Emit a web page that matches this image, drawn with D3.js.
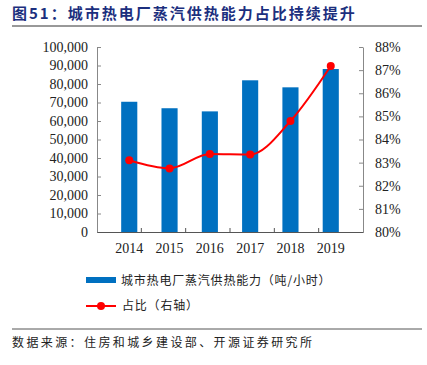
<!DOCTYPE html>
<html>
<head>
<meta charset="utf-8">
<script src="https://cdn.jsdelivr.net/npm/d3@7"></script>
<style>
  body { margin: 0; background: #fff; }
  svg { display: block; }
  .tick text { font-family: "Liberation Serif", "Times New Roman", serif; font-size: 14px; fill: #222; }
  .cjk { font-family: "Noto Sans CJK SC", sans-serif; }
</style>
</head>
<body>
<svg id="chart"></svg>
<script>
const years = ["2014", "2015", "2016", "2017", "2018", "2019"];
const capacity = [70400, 66900, 65200, 82000, 78200, 88100];
const share = [83.1, 82.75, 83.37, 83.35, 84.8, 87.18];

const width = 427;
const height = 365;
const plotLeft = 97, plotRight = 363, plotTop = 47, plotBottom = 232;

const svg = d3.select("#chart").attr("width", width).attr("height", height);

// title
svg.append("text")
  .attr("x", 12).attr("y", 19)
  .attr("class", "cjk")
  .attr("font-size", 15).attr("font-weight", "bold")
  .attr("letter-spacing", 2)
  .attr("fill", "#1c2f7e")
  .text("图51：城市热电厂蒸汽供热能力占比持续提升");
svg.append("line")
  .attr("x1", 12).attr("x2", 422).attr("y1", 26).attr("y2", 26)
  .attr("stroke", "#333").attr("stroke-width", 1);

const x = d3.scaleBand().domain(years).range([plotLeft, plotRight]).padding(0.6);
const xEdge = d3.scaleLinear().domain([0, years.length]).range([plotLeft, plotRight]);
const yL = d3.scaleLinear().domain([0, 100000]).range([plotBottom, plotTop]);
const yR = d3.scaleLinear().domain([80, 88]).range([plotBottom, plotTop]);

// bars
svg.selectAll("rect.bar")
  .data(capacity)
  .enter()
  .append("rect")
  .attr("class", "bar")
  .attr("x", (d, i) => x(years[i]))
  .attr("width", x.bandwidth())
  .attr("y", (d) => yL(d))
  .attr("height", (d) => plotBottom - yL(d))
  .attr("fill", "#0070c0");

// left axis
const axisL = svg.append("g")
  .attr("transform", "translate(" + plotLeft + ",0)")
  .call(d3.axisLeft(yL).ticks(10).tickFormat(d3.format(",")).tickSizeInner(-4).tickSizeOuter(0).tickPadding(9));
axisL.selectAll("line, path").attr("stroke", "#888");

// right axis
const axisR = svg.append("g")
  .attr("transform", "translate(" + plotRight + ",0)")
  .call(d3.axisRight(yR).ticks(8).tickFormat((d) => d + "%").tickSizeInner(-4).tickSizeOuter(0).tickPadding(12));
axisR.selectAll("line, path").attr("stroke", "#888");

// bottom axis
const axisB = svg.append("g")
  .attr("transform", "translate(0," + plotBottom + ")")
  .call(d3.axisBottom(x).tickSize(0).tickPadding(11));
axisB.select("path").attr("stroke", "#555");
axisB.selectAll(".edge")
  .data(d3.range(1, years.length))
  .enter()
  .append("line")
  .attr("class", "edge")
  .attr("x1", (d) => xEdge(d)).attr("x2", (d) => xEdge(d))
  .attr("y1", 0).attr("y2", -4)
  .attr("stroke", "#555");

// line
const line = d3.line()
  .x((d, i) => x(years[i]) + x.bandwidth() / 2)
  .y((d) => yR(d))
  .curve(d3.curveMonotoneX);
svg.append("path")
  .datum(share)
  .attr("d", line)
  .attr("fill", "none")
  .attr("stroke", "#ff0000")
  .attr("stroke-width", 2);
svg.selectAll("circle.pt")
  .data(share)
  .enter()
  .append("circle")
  .attr("class", "pt")
  .attr("cx", (d, i) => x(years[i]) + x.bandwidth() / 2)
  .attr("cy", (d) => yR(d))
  .attr("r", 4)
  .attr("fill", "#ff0000");

// legend
const legend = svg.append("g").attr("class", "cjk").attr("font-size", 12).attr("letter-spacing", 0.8).attr("fill", "#222");
legend.append("rect").attr("x", 86).attr("y", 277).attr("width", 30).attr("height", 6).attr("fill", "#0070c0");
legend.append("text").attr("x", 121).attr("y", 285).text("城市热电厂蒸汽供热能力（吨/小时）");
legend.append("line").attr("x1", 86).attr("x2", 116).attr("y1", 306).attr("y2", 306)
  .attr("stroke", "#ff0000").attr("stroke-width", 2);
legend.append("circle").attr("cx", 101).attr("cy", 306).attr("r", 4).attr("fill", "#ff0000");
legend.append("text").attr("x", 122).attr("y", 310).text("占比（右轴）");

// source
svg.append("line")
  .attr("x1", 12).attr("x2", 422).attr("y1", 329).attr("y2", 329)
  .attr("stroke", "#555").attr("stroke-width", 1);
svg.append("text")
  .attr("x", 12).attr("y", 347)
  .attr("class", "cjk")
  .attr("font-size", 12).attr("letter-spacing", 2.4).attr("fill", "#222")
  .text("数据来源：住房和城乡建设部、开源证券研究所");
</script>
</body>
</html>
